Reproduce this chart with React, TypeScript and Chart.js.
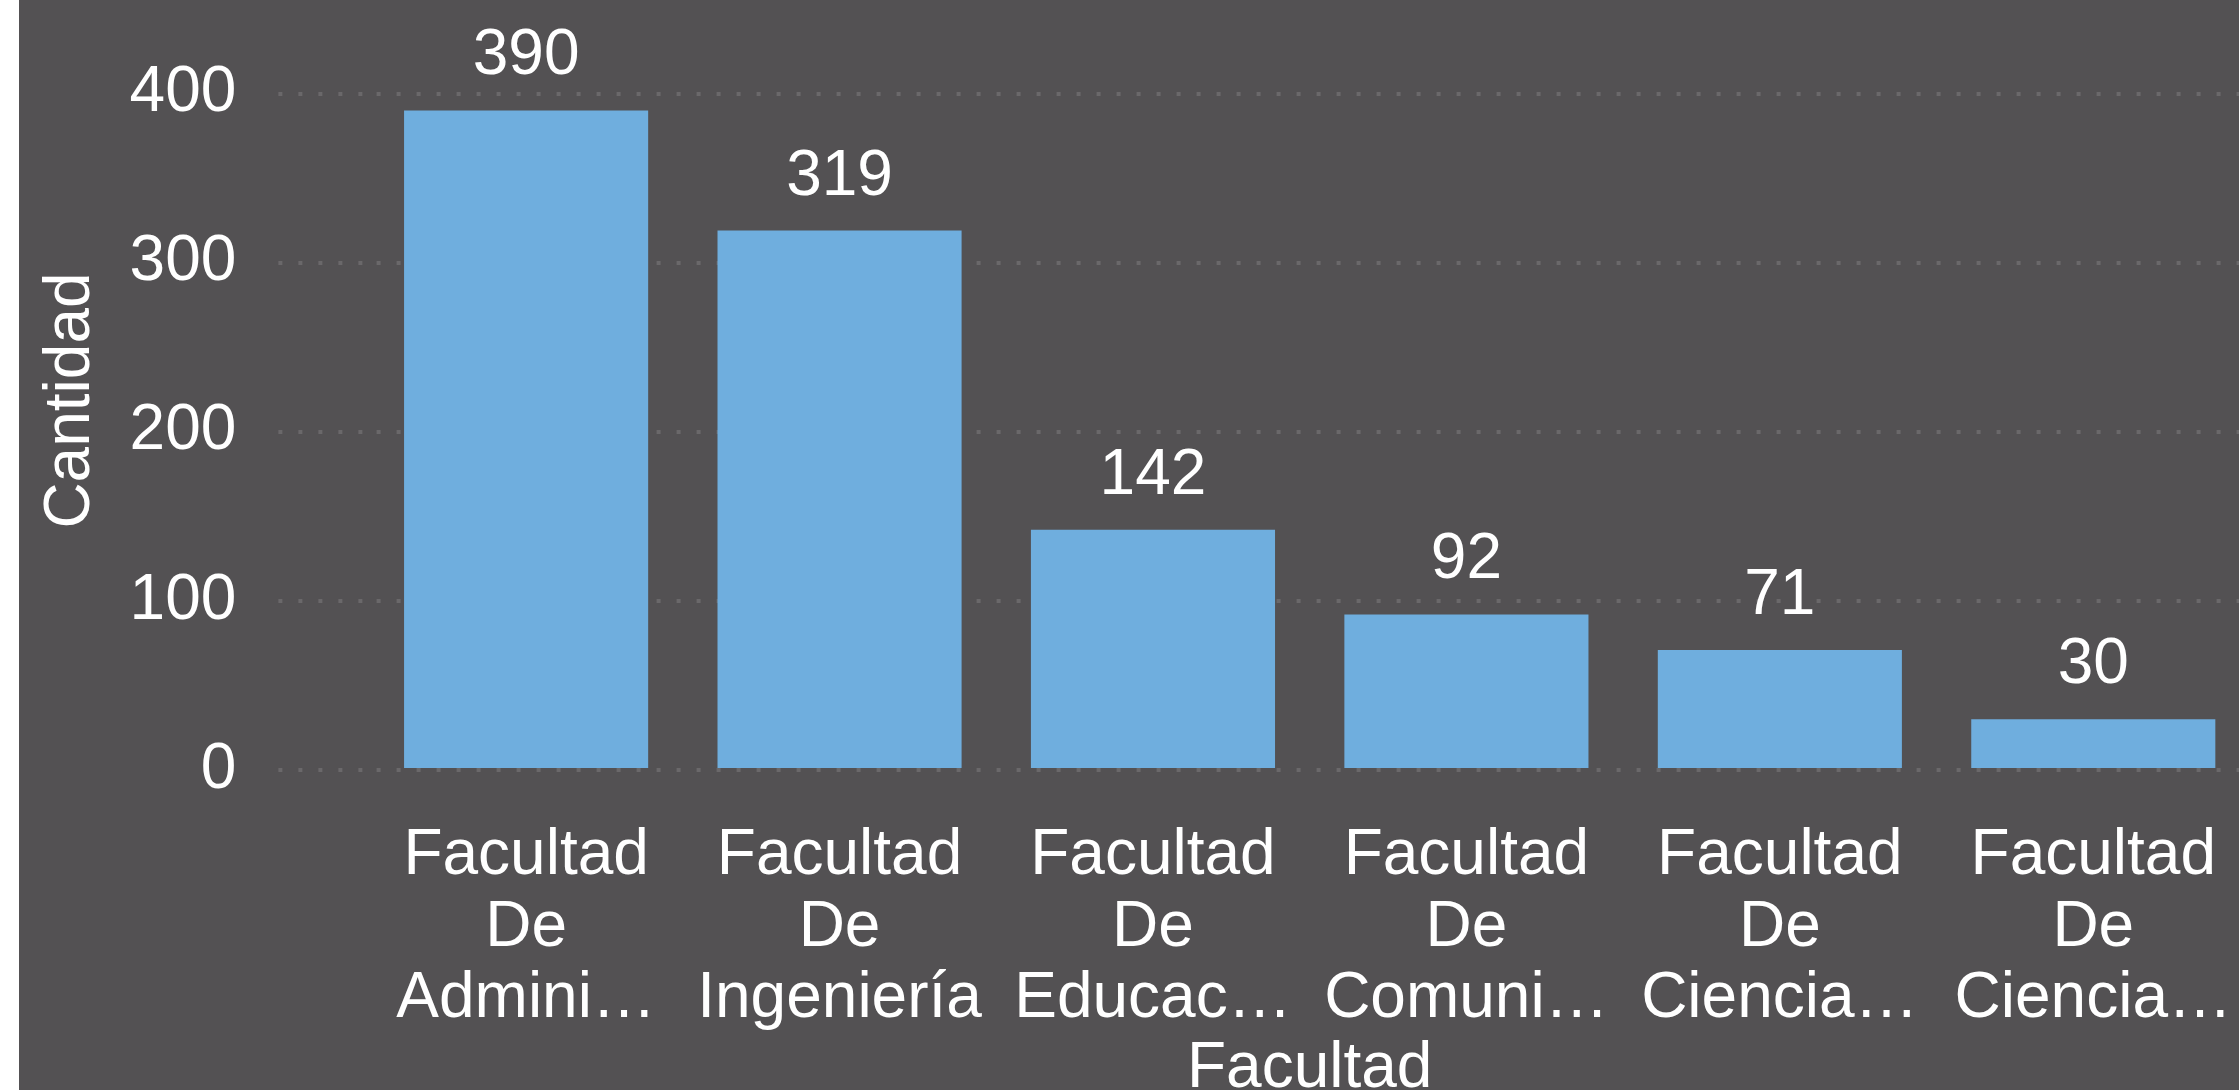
import { useEffect, useRef } from "react";
import { Chart, registerables } from "chart.js";

Chart.register(...registerables);

const categories: string[][] = [
  ["Facultad", "De", "Admini…"],
  ["Facultad", "De", "Ingeniería"],
  ["Facultad", "De", "Educac…"],
  ["Facultad", "De", "Comuni…"],
  ["Facultad", "De", "Ciencia…"],
  ["Facultad", "De", "Ciencia…"],
];
const values: number[] = [390, 319, 142, 92, 71, 30];
const yTicks: number[] = [0, 100, 200, 300, 400];
const yMax = 437;
const xTitle = "Facultad";
const yTitle = "Cantidad";

const FONT = "'Liberation Sans', Arial, Helvetica, sans-serif";
const BG = "#535153";
const BAR = "#6FAEDE";
const GRID = "#6a686a";

const dataLabels = {
  id: "dataLabels",
  afterDatasetsDraw(chart: any) {
    const ctx = chart.ctx;
    const meta = chart.getDatasetMeta(0);
    ctx.save();
    ctx.fillStyle = "#ffffff";
    ctx.font = `64px ${FONT}`;
    ctx.textAlign = "center";
    ctx.textBaseline = "alphabetic";
    meta.data.forEach((bar: any, i: number) => {
      ctx.fillText(String(values[i]), bar.x, bar.y - 36);
    });
    ctx.restore();
  },
};

export default function App() {
  const ref = useRef<HTMLCanvasElement>(null);
  useEffect(() => {
    document.body.style.margin = "0";
    const chart = new Chart(ref.current as HTMLCanvasElement, {
      type: "bar",
      data: {
        labels: categories,
        datasets: [
          {
            label: yTitle,
            data: values,
            backgroundColor: BAR,
            borderWidth: 0,
            barPercentage: 0.7788,
            categoryPercentage: 1,
          },
        ],
      },
      options: {
        animation: false,
        responsive: false,
        devicePixelRatio: 1,
        layout: { padding: { top: 31, left: 0, right: 0, bottom: 0 } },
        plugins: {
          legend: { display: false },
          tooltip: { enabled: false },
        },
        scales: {
          x: {
            grid: { display: false },
            border: { display: false },
            ticks: {
              color: "#ffffff",
              font: { family: FONT, size: 64, lineHeight: 1.114 },
              padding: 43,
              maxRotation: 0,
              minRotation: 0,
              autoSkip: false,
            },
            title: {
              display: true,
              text: xTitle,
              color: "#ffffff",
              font: { family: FONT, size: 64, lineHeight: 0.8 },
              padding: { top: 0, bottom: -5 },
            },
            afterFit: (scale: any) => {
              scale.height = 320;
              scale.paddingLeft = 0;
              scale.paddingRight = 0;
            },
          },
          y: {
            min: 0,
            max: yMax,
            border: { display: false, dash: [4, 16], dashOffset: 12.4 },
            grid: {
              color: GRID,
              lineWidth: 4,
              drawTicks: true,
              tickLength: 91,
              tickColor: GRID,
              tickWidth: 4,
              tickBorderDash: [4, 16],
              tickBorderDashOffset: 0,
            },
            ticks: {
              color: "#ffffff",
              font: { family: FONT, size: 64, lineHeight: 0.9 },
              padding: 42,
              includeBounds: false,
            },
            afterBuildTicks: (scale: any) => {
              scale.ticks = yTicks.map((v) => ({ value: v }));
            },
            title: {
              display: true,
              text: yTitle,
              color: "#ffffff",
              font: { family: FONT, size: 64, lineHeight: 1.2 },
              padding: { top: 14, bottom: 0 },
            },
            afterFit: (scale: any) => {
              scale.width = 350.4;
              scale.paddingTop = 0;
              scale.paddingBottom = 0;
            },
          },
        },
      },
      plugins: [dataLabels],
    });
    return () => chart.destroy();
  }, []);

  return (
    <div
      style={{
        position: "fixed",
        left: 19,
        top: 0,
        width: 2220,
        height: 1090,
        overflow: "hidden",
        background: BG,
      }}
    >
      <canvas
        ref={ref}
        width={2231}
        height={1090}
        style={{ display: "block", width: 2231, height: 1090 }}
      />
    </div>
  );
}
